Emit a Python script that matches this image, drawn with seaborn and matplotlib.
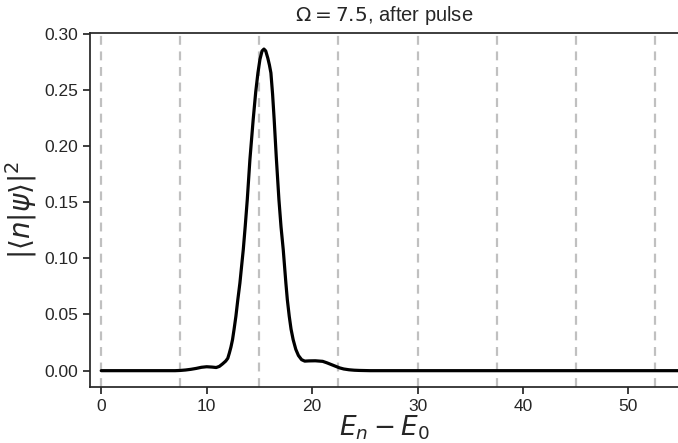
import matplotlib
matplotlib.use("Agg")
import matplotlib.pyplot as plt
import seaborn as sns
import pandas as pd

# Energy offsets E_n - E_0 and overlap probabilities |<n|psi>|^2 after the pulse
energy = [0.0, 5.0, 7.0, 7.5, 8.0, 8.5, 9.0, 9.5, 10.0, 10.5, 10.9, 11.2, 11.5,
          11.8, 12.0, 12.15, 12.3, 12.45, 12.6, 12.77, 12.95, 13.15, 13.3, 13.47,
          13.65, 13.85, 14.1, 14.41, 14.65, 14.86, 15.05, 15.25, 15.43, 15.6,
          15.8, 15.95, 16.09, 16.25, 16.4, 16.6, 16.85, 17.05, 17.26, 17.51,
          17.65, 17.83, 18.0, 18.2, 18.45, 18.7, 19.0, 19.3, 19.7, 20.3, 21.0,
          21.4, 21.8, 22.2, 22.6, 23.0, 23.5, 24.0, 24.5, 25.5, 40.0, 55.0]
prob = [0.0, 0.0, 0.0, 0.0002, 0.0006, 0.0012, 0.0020, 0.0030, 0.0035, 0.0032,
        0.0028, 0.0038, 0.0060, 0.0085, 0.0110, 0.0157, 0.0210, 0.0276, 0.0370,
        0.0484, 0.0630, 0.0780, 0.0920, 0.1077, 0.1280, 0.1523, 0.1880, 0.2235,
        0.2480, 0.2650, 0.2770, 0.2845, 0.2862, 0.2845, 0.2780, 0.2720, 0.2650,
        0.2460, 0.2235, 0.1900, 0.1523, 0.1280, 0.1077, 0.0780, 0.0630, 0.0484,
        0.0370, 0.0276, 0.0190, 0.0135, 0.0098, 0.0085, 0.0087, 0.0088, 0.0083,
        0.0070, 0.0055, 0.0040, 0.0025, 0.0015, 0.0008, 0.0004, 0.0002, 0.0,
        0.0, 0.0]

# Multiples of the drive frequency
omega = 7.5
harmonics = [0.0, 7.5, 15.0, 22.5, 30.0, 37.5, 45.0, 52.5]

sns.set_theme(style="ticks")
plt.rcParams["font.family"] = ["Liberation Sans", "DejaVu Sans"]
plt.rcParams["mathtext.fontset"] = "dejavusans"

fig = plt.figure(figsize=(6.78, 4.43), dpi=100)
ax = fig.add_axes([0.1327, 0.127, 0.8673, 0.798])

for h in harmonics:
    ax.axvline(h, color="#c0c0c0", lw=1.6, ls=(0, (4, 3)), zorder=1)

df = pd.DataFrame({"E": energy, "p": prob})
sns.lineplot(data=df, x="E", y="p", color="black", lw=2.3, ax=ax, zorder=3)

ax.set_xlim(-1.07, 54.7)
ax.set_ylim(-0.0143, 0.3003)
yt = [0.0, 0.05, 0.10, 0.15, 0.20, 0.25, 0.30]
ax.set_xticks([0, 10, 20, 30, 40, 50])
ax.set_yticks(yt)
ax.set_yticklabels([f"{v:.2f}" for v in yt])
ax.tick_params(labelsize=12.5, colors="#262626", length=5)
ax.spines["right"].set_visible(False)

ax.set_xlabel(r"$E_n - E_0$", fontsize=19, labelpad=0)
ax.set_ylabel(r"$|\langle n|\psi\rangle|^2$", fontsize=20, labelpad=4)
ax.set_title(r"$\Omega = 7.5$, after pulse", fontsize=14.5, pad=9)

fig.savefig("out.png", dpi=100)
